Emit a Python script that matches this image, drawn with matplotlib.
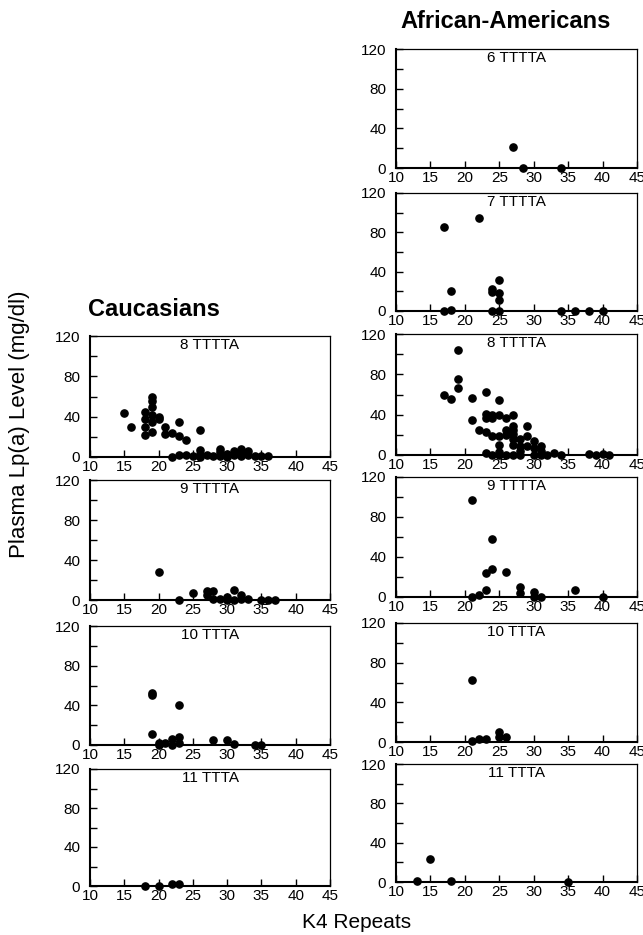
import matplotlib
matplotlib.use("Agg")
import matplotlib.pyplot as plt
from matplotlib.ticker import MultipleLocator

plt.rcParams['font.family'] = ['Liberation Sans', 'DejaVu Sans']

# ---------------- data (K4 repeats, Lp(a) mg/dl) ----------------
# African-Americans
aa6_x = [27, 28.4, 34]
aa6_y = [21, 0, 0]

aa7_x = [17, 22, 18, 17, 18, 24, 24, 24, 25, 25, 25, 25, 34, 36, 38, 40]
aa7_y = [85, 95, 20, 0, 1, 22, 19, 0, 32, 18, 11, 0, 0, 0, 0, 0]

aa8_x = [17, 18, 19, 19, 19, 21, 21, 22, 23, 23, 23, 23, 23, 24, 24, 24, 24,
         25, 25, 25, 25, 25, 25, 26, 26, 26, 26, 27, 27, 27, 27, 27, 27, 27,
         28, 28, 28, 28, 29, 29, 29, 30, 30, 30, 31, 31, 31, 32, 33, 34, 38,
         39, 40, 41]
aa8_y = [60, 56, 104, 75, 66, 57, 35, 25, 62, 41, 37, 23, 2, 40, 37, 19, 0,
         55, 40, 19, 10, 3, 0, 37, 25, 20, 0, 40, 29, 25, 21, 16, 10, 0,
         16, 9, 4, 0, 29, 19, 9, 14, 7, 0, 9, 4, 0, 0, 2, 0, 1,
         0, 1, 0]

aa9_x = [21, 21, 22, 23, 23, 24, 24, 26, 28, 28, 30, 30, 31, 36, 40]
aa9_y = [97, 0, 2, 24, 7, 58, 28, 25, 10, 4, 5, 0, 0, 7, 0]

aa10_x = [21, 21, 22, 23, 25, 25, 26]
aa10_y = [63, 1, 3, 3, 10, 5, 5]

aa11_x = [13, 15, 18, 35]
aa11_y = [1, 23, 1, 0]

# Caucasians
ca8_x = [15, 16, 18, 18, 18, 18, 19, 19, 19, 19, 19, 19, 20, 20, 21, 21, 22,
         23, 23, 24, 26, 22, 23, 24, 25, 26, 26, 26, 27, 28, 29, 29, 29, 30,
         30, 31, 31, 32, 32, 32, 33, 33, 34, 35, 36]
ca8_y = [44, 30, 45, 38, 30, 22, 60, 56, 50, 42, 35, 25, 40, 38, 30, 23, 24,
         35, 21, 17, 27, 0, 2, 2, 1, 7, 3, 0, 2, 1, 8, 5, 1, 3,
         0, 6, 2, 8, 5, 1, 6, 2, 1, 1, 1]

ca9_x = [20, 23, 25, 27, 27, 28, 28, 29, 30, 30, 31, 31, 32, 32, 33, 35, 36, 37]
ca9_y = [28, 0, 7, 9, 5, 9, 1, 1, 3, 0, 10, 0, 5, 1, 1, 0, 0, 0]

ca10_x = [19, 19, 19, 20, 20, 21, 22, 22, 23, 23, 23, 28, 30, 31, 34, 35]
ca10_y = [52, 50, 11, 2, 0, 2, 6, 0, 40, 8, 2, 5, 5, 1, 0, 0]

ca11_x = [18, 20, 22, 23]
ca11_y = [0, 0.5, 2, 2]

# panel labels
aa_labels = ["6 TTTTA", "7 TTTTA", "8 TTTTA", "9 TTTTA", "10 TTTA", "11 TTTA"]
ca_labels = ["8 TTTTA", "9 TTTTA", "10 TTTA", "11 TTTA"]

aa_data = [(aa6_x, aa6_y), (aa7_x, aa7_y), (aa8_x, aa8_y),
           (aa9_x, aa9_y), (aa10_x, aa10_y), (aa11_x, aa11_y)]
ca_data = [(ca8_x, ca8_y), (ca9_x, ca9_y), (ca10_x, ca10_y), (ca11_x, ca11_y)]

x_ticks = [10, 15, 20, 25, 30, 35, 40, 45]
y_ticks = [0, 40, 80, 120]

# ---------------- layout ----------------
W, H = 643, 935
fig = plt.figure(figsize=(W / 100, H / 100), dpi=100)

right_x0, right_x1 = 396, 637
left_x0, left_x1 = 90, 330
right_rows = [(49, 168), (193, 311), (334, 455), (477, 597), (623, 742), (764, 882)]
left_rows = [(336, 457), (480, 600), (626, 745), (769, 886)]


def make_ax(x0, x1, top, bot):
    return fig.add_axes([x0 / W, 1 - bot / H, (x1 - x0) / W, (bot - top) / H])


def style(ax, label, xs, ys):
    ax.plot(xs, ys, 'o', color='black', ms=5.2, clip_on=False, zorder=5)
    ax.set_xlim(10, 45)
    ax.set_ylim(0, 120)
    ax.set_xticks(x_ticks)
    ax.set_yticks(y_ticks)
    ax.yaxis.set_minor_locator(MultipleLocator(20))
    ax.tick_params(axis='both', which='both', direction='in', labelsize=11,
                   top=False, right=False, width=1.0)
    ax.tick_params(axis='x', which='major', length=5, pad=2)
    ax.tick_params(axis='y', which='both', length=5, pad=7)
    for s in ['left', 'bottom']:
        ax.spines[s].set_linewidth(1.5)
    for s in ['top', 'right']:
        ax.spines[s].set_linewidth(0.9)
    ax.text(0.5, 0.985, label, transform=ax.transAxes, ha='center', va='top',
            fontsize=11)


for (top, bot), lab, (xs, ys) in zip(right_rows, aa_labels, aa_data):
    ax = make_ax(right_x0, right_x1, top, bot)
    style(ax, lab, xs, ys)

for (top, bot), lab, (xs, ys) in zip(left_rows, ca_labels, ca_data):
    ax = make_ax(left_x0, left_x1, top, bot)
    style(ax, lab, xs, ys)

fig.text(506 / W, 1 - 21 / H, "African-Americans", ha='center', va='center',
         fontsize=17, fontweight='bold')
fig.text(88 / W, 1 - 310 / H, "Caucasians", ha='left', va='center',
         fontsize=17, fontweight='bold')
fig.text(20 / W, 1 - 424 / H, "Plasma Lp(a) Level (mg/dl)", rotation=90,
         ha='center', va='center', fontsize=16)
fig.text(357 / W, 1 - 923 / H, "K4 Repeats", ha='center', va='center',
         fontsize=15)

fig.savefig("out.png", dpi=100)
